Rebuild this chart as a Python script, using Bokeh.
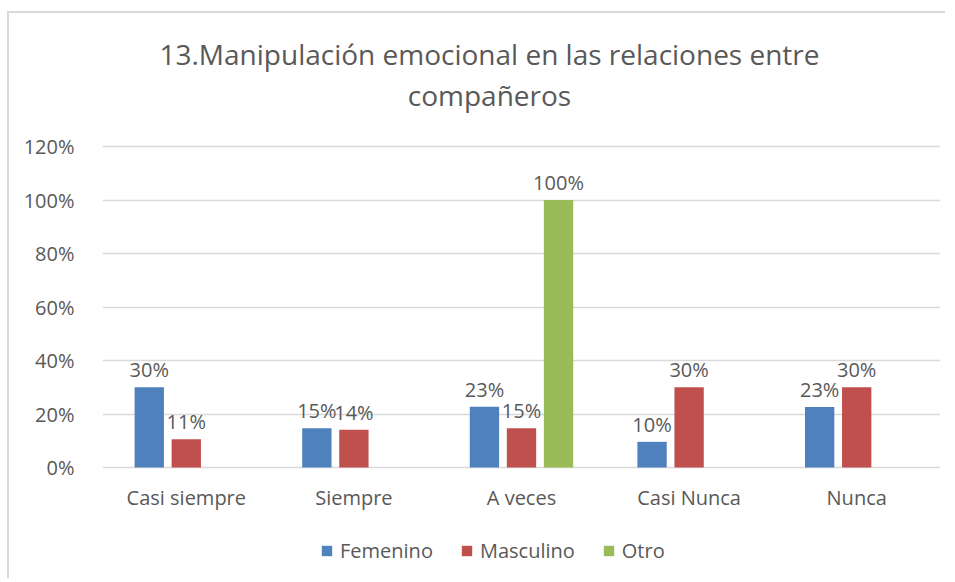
from bokeh.plotting import figure
from bokeh.models import (ColumnDataSource, FactorRange, FixedTicker, NumeralTickFormatter,
                          Label, Legend, LegendItem)
from bokeh.transform import dodge
from bokeh.core.properties import value
from bokeh.embed import file_html
from bokeh.resources import INLINE

categories = ["Casi siempre", "Siempre", "A veces", "Casi Nunca", "Nunca"]
femenino = [0.30, 0.147, 0.227, 0.096, 0.226]
masculino = [0.106, 0.141, 0.147, 0.30, 0.30]
otro = [0.0, 0.0, 1.0, 0.0, 0.0]
series_names = ["Femenino", "Masculino", "Otro"]
y_ticks = [0, 0.2, 0.4, 0.6, 0.8, 1.0, 1.2]
title_lines = ["13.Manipulación emocional en las relaciones entre", "compañeros"]

colors = ["#4F81BD", "#C0504D", "#9BBB59"]
offsets = [-0.221, 0.0, 0.221]
TEXT = "#595959"
FONT = "Open Sans"

# frame spans the whole chart box; y range chosen so that 0..120% sits where the reference has it
Y_LOW, Y_HIGH = -0.4224, 1.6972

src = ColumnDataSource(dict(cat=categories, Femenino=femenino, Masculino=masculino, Otro=otro))

p = figure(x_range=FactorRange(*categories), y_range=(Y_LOW, Y_HIGH),
           width=938, height=567, output_backend="svg", toolbar_location=None,
           min_border_left=93, min_border_right=7, min_border_top=0, min_border_bottom=0,
           margin=(11, 0, 0, 7),
           styles={"border-top": "2px solid #d9d9d9", "border-left": "2px solid #d9d9d9"})
p.outline_line_color = None
p.background_fill_color = "white"
p.border_fill_color = "white"

items = []
for name, col, off in zip(series_names, colors, offsets):
    r = p.vbar(x=dodge("cat", off, range=p.x_range), top=name, bottom=0, width=0.175,
               source=src, fill_color=col, line_color=None)
    items.append(LegendItem(label=name, renderers=[r]))
    vals = src.data[name]
    lab_c, lab_y, lab_t = [], [], []
    for c, v in zip(categories, vals):
        if v > 0:
            lab_c.append(c)
            lab_y.append(v)
            lab_t.append(f"{round(v * 100 + 1e-9):.0f}%")
    lsrc = ColumnDataSource(dict(x=lab_c, y=lab_y, t=lab_t))
    p.text(x=dodge("x", off, range=p.x_range), y="y", text="t", source=lsrc,
           text_align="center", text_baseline="alphabetic", y_offset=-17.5,
           text_font=value(FONT), text_font_size="20px", text_color=TEXT)

# category labels under the 0% baseline
csrc = ColumnDataSource(dict(x=categories, y=[0] * len(categories), t=categories))
p.text(x="x", y="y", text="t", source=csrc, text_align="center", text_baseline="middle",
       y_offset=30, text_font=value(FONT), text_font_size="20px", text_color=TEXT)

legend = Legend(items=items, orientation="horizontal", location=(218, 16),
                padding=0, margin=0, spacing=27, label_standoff=7,
                glyph_width=13, glyph_height=13,
                label_text_font=FONT, label_text_font_size="20px", label_text_color=TEXT,
                border_line_alpha=0, background_fill_alpha=0)
p.add_layout(legend, "center")

for i, line in enumerate(title_lines):
    p.add_layout(Label(x=387, y=527 - 41 * i, x_units="screen", y_units="screen", text=line,
                       text_align="center", text_baseline="alphabetic",
                       text_font=FONT, text_font_size="28px", text_color=TEXT))

p.xaxis.visible = False
p.xgrid.grid_line_color = None
p.ygrid.grid_line_color = "#d9d9d9"
p.ygrid.grid_line_width = 1.5
p.ygrid.ticker = FixedTicker(ticks=y_ticks)
p.yaxis.ticker = FixedTicker(ticks=y_ticks)
p.yaxis.formatter = NumeralTickFormatter(format="0%")
p.yaxis.axis_line_color = None
p.yaxis.major_tick_line_color = None
p.yaxis.minor_tick_line_color = None
p.yaxis.major_label_text_font = FONT
p.yaxis.major_label_text_font_size = "20px"
p.yaxis.major_label_text_color = TEXT
p.yaxis.major_label_standoff = 22

open("out.html", "w").write(file_html(p, INLINE))
